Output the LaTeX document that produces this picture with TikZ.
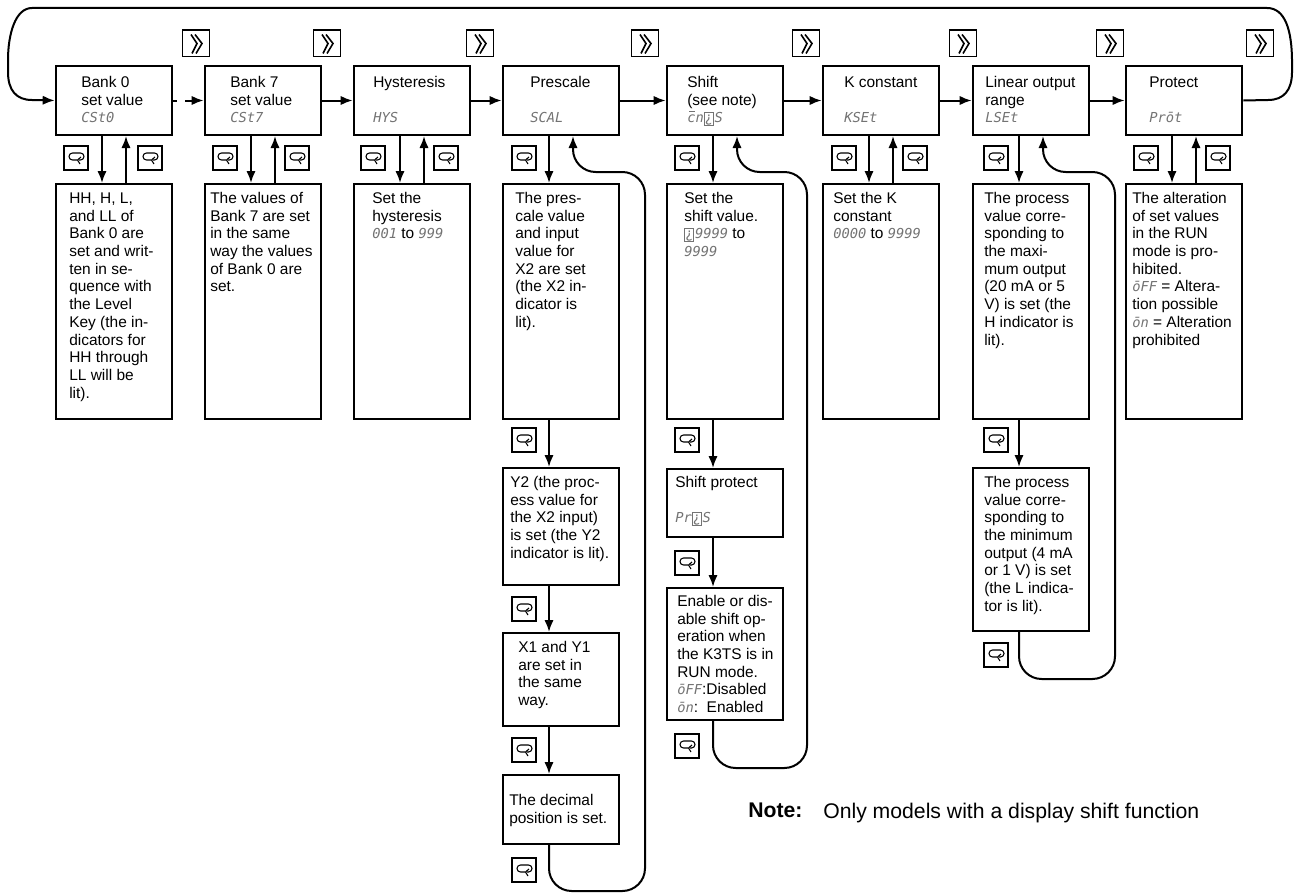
\documentclass[tikz,border=0pt]{standalone}
\usepackage{fontspec}
\setmainfont{Liberation Sans}
\newfontfamily\segfont{DejaVu Sans Mono}
\usetikzlibrary{arrows.meta}

% display characters on the panel
\newcommand{\seg}[1]{{\segfont\itshape\fontsize{10.3}{13.3}\selectfont\color{black!55}#1}}
\newcommand{\segq}{{\upshape\setlength{\fboxsep}{0pt}\setlength{\fboxrule}{.4pt}\fbox{\makebox[6.5pt]{\rule{0pt}{7.8pt}¿}}\kern.8pt}}
\newcommand{\segbar}[1]{\rlap{\kern1.5pt\rule[8.6pt]{4.5pt}{.4pt}}#1}

\tikzset{
    stepbox/.style={draw,line width=1.5pt,minimum width=87.5pt,inner sep=0pt},
    steptext/.style={anchor=north west,align=left,inner sep=0pt,
        font=\fontsize{11.6}{13.3}\selectfont},
    flow/.style={line width=1.5pt,-{Latex[length=9pt,width=7pt]}},
    levelkey/.style={draw,line width=1.5pt,minimum size=17.5pt,inner sep=0pt,
        path picture={
            \begin{scope}[shift={(path picture bounding box.center)},line width=.8pt]
                \draw[rounded corners=2.6pt] (1,2) -- (-7,2) -- (-7,-5) -- (8,-5) -- (8,2) -- (3,2);
                \draw (5,-1) -- (1.5,2) -- (4,6);
            \end{scope}
        }},
    modekey/.style={draw,line width=1pt,minimum size=20pt,inner sep=0pt,
        path picture={
            \begin{scope}[shift={(path picture bounding box.center)},line width=1.2pt]
                \draw (-5,-9) -- (1,0) -- (-4,10);
                \draw (-1,-9) -- (6,0) -- (0,10);
            \end{scope}
        }}
}

% name, left, top, bottom, text inset, first baseline, text
\newcommand{\stepnode}[7]{
    \node[stepbox,minimum height={(#4-#3)*0.75pt-1.5pt}] (#1) at ({#2+59},{(#3+#4)/2}) {};
    \node[steptext] (#1t) at ({#2+#5},{#3+#6-13.33}) {\rule{0pt}{10pt}#7};
}

\begin{document}
\begin{tikzpicture}[x=0.75pt,y=-0.75pt]
    \useasboundingbox (0,0) rectangle (1294,892);

    % Top row
    \stepnode{bank0}{55}{65}{136}{26}{22}{Bank 0\\set value\\\seg{CSt0}}
    \stepnode{bank7}{204}{65}{136}{26}{22}{Bank 7\\set value\\\seg{CSt7}}
    \stepnode{hyst}{353}{65}{136}{20}{22}{Hysteresis\\[13.3pt]\seg{HYS}}
    \stepnode{pres}{502}{65}{136}{28}{22}{Prescale\\[13.3pt]\seg{SCAL}}
    \stepnode{shift}{666}{65}{136}{21}{22}{Shift\\(see note)\\\seg{\segbar{c}n\segq S}}
    \stepnode{kcon}{822}{65}{136}{22}{22}{K constant\\[13.3pt]\seg{KSEt}}
    \stepnode{line}{972}{65}{136}{13}{22}{Linear output\\range\\\seg{LSEt}}
    \stepnode{prot}{1125}{65}{136}{24}{22}{Protect\\[13.3pt]\seg{Pr\=ot}}

    % Boxes under the top row
    \stepnode{bank0a}{55}{183}{420}{14}{20}{HH, H, L,\\and LL of\\Bank 0 are\\set and writ-\\ten in se-\\quence with\\the Level\\Key (the in-\\dicators for\\HH through\\LL will be\\lit).}
    \stepnode{bank7a}{204}{183}{420}{6}{20}{The values of\\Bank 7 are set\\in the same\\way the values\\of Bank 0 are\\set.}
    \stepnode{hysta}{353}{183}{420}{19}{20}{Set the\\hysteresis\\\seg{001} to \seg{999}}
    \stepnode{presa}{502}{183}{420}{13}{20}{The pres-\\cale value\\and input\\value for\\X2 are set\\(the X2 in-\\dicator is\\lit).}
    \stepnode{presb}{502}{467}{586}{8}{20}{Y2 (the proc-\\ess value for\\the X2 input)\\is set (the Y2\\indicator is lit).}
    \stepnode{presc}{502}{632}{727}{16}{20}{X1 and Y1\\are set in\\the same\\way.}
    \stepnode{presd}{502}{774}{845}{7}{31}{The decimal\\position is set.}
    \stepnode{shifta}{666}{183}{420}{18}{20}{Set the\\shift value.\\\seg{\segq 9999} to\\\seg{9999}}
    \stepnode{shiftb}{666}{468}{538}{9}{19}{Shift protect\\[13.3pt]\seg{Pr\segq S}}
    \stepnode{shiftc}{666}{587}{721}{11}{19}{Enable or dis-\\able shift op-\\eration when\\the K3TS is in\\RUN mode.\\\seg{\=oFF}:Disabled\\\seg{\=on}:\ \ Enabled}
    \stepnode{kcona}{822}{183}{420}{11}{20}{Set the K\\constant\\\seg{0000} to \seg{9999}}
    \stepnode{linea}{972}{183}{420}{12}{20}{The process\\value corre-\\sponding to\\the maxi-\\mum output\\(20 mA or 5\\V) is set (the\\H indicator is\\lit).}
    \stepnode{lineb}{972}{467}{632}{12}{20}{The process\\value corre-\\sponding to\\the minimum\\output (4 mA\\or 1 V) is set\\(the L indica-\\tor is lit).}
    \stepnode{prota}{1125}{183}{420}{7}{20}{The alteration\\of set values\\in the RUN\\mode is pro-\\hibited.\\\seg{\=oFF} = Altera-\\tion possible\\\seg{\=on} = Alteration\\prohibited}

    % Mode keys
    \foreach \x [count=\i] in {196,327,480,645,806,963,1110,1260} {
        \node[modekey] (mode\i) at (\x,43.5) {};
    }

    % Level keys
    \foreach \x/\y [count=\i] in {76/158,150/158,225/158,297/158,373/158,446/158,
        524/158,524/440,524/609,524/750,524/870,
        687/158,687/440,687/563,687/746,
        844/158,915/158,
        996/158,996/440,996/655,
        1146/158,1218/158} {
        \node[levelkey] (key\i) at (\x,\y) {};
    }

    % Along the top row
    \draw[flow,dash pattern=on 3pt off 6pt on 20pt] (bank0.east) -- (bank7.west);
    \foreach \a/\b in {bank7/hyst,hyst/pres,pres/shift,shift/kcon,kcon/line,line/prot} {
        \draw[flow] (\a.east) -- (\b.west);
    }

    % Down into the boxes
    \foreach \a/\b in {bank0/bank0a,bank7/bank7a,hyst/hysta,pres/presa,presa/presb,presb/presc,presc/presd,
        shift/shifta,shifta/shiftb,shiftb/shiftc,kcon/kcona,line/linea,linea/lineb,prot/prota} {
        \draw[flow] ([xshift=-9pt]\a.south) -- ([xshift=-9pt]\b.north);
    }

    % Back up
    \foreach \a/\b in {bank0a/bank0,bank7a/bank7,hysta/hyst,kcona/kcon,prota/prot} {
        \draw[flow] ([xshift=9pt]\a.north) -- ([xshift=9pt]\b.south);
    }

    % Return loops
    \draw[flow,rounded corners=17pt] ([xshift=-9pt]presd.south) -- (549,891) -- (645,891) -- (645,172) -- (573,172) -- ([xshift=9pt]pres.south);
    \draw[flow,rounded corners=17pt] ([xshift=-9pt]shiftc.south) -- (713,768) -- (807,768) -- (807,172) -- (737,172) -- ([xshift=9pt]shift.south);
    \draw[flow,rounded corners=17pt] ([xshift=-9pt]lineb.south) -- (1019,679) -- (1115,679) -- (1115,172) -- (1043,172) -- ([xshift=9pt]line.south);
    \draw[flow] (prot.east) -- (1268,100) .. controls (1284,100) and (1292,90) .. (1292,72) -- (1292,62)
        .. controls (1292,30) and (1285,8) .. (1267,8) -- (32,8)
        .. controls (15,8) and (8,35) .. (8,60) -- (8,72)
        .. controls (8,90) and (16,100) .. (32,100) -- (bank0.west);

    % Footnote
    \node[steptext,font=\fontsize{15.9}{18}\selectfont\bfseries] (note) at (748,803) {Note:};
    \node[steptext,font=\fontsize{15.9}{18}\selectfont] (notetext) at (823,803) {Only models with a display shift function};
\end{tikzpicture}
\end{document}
